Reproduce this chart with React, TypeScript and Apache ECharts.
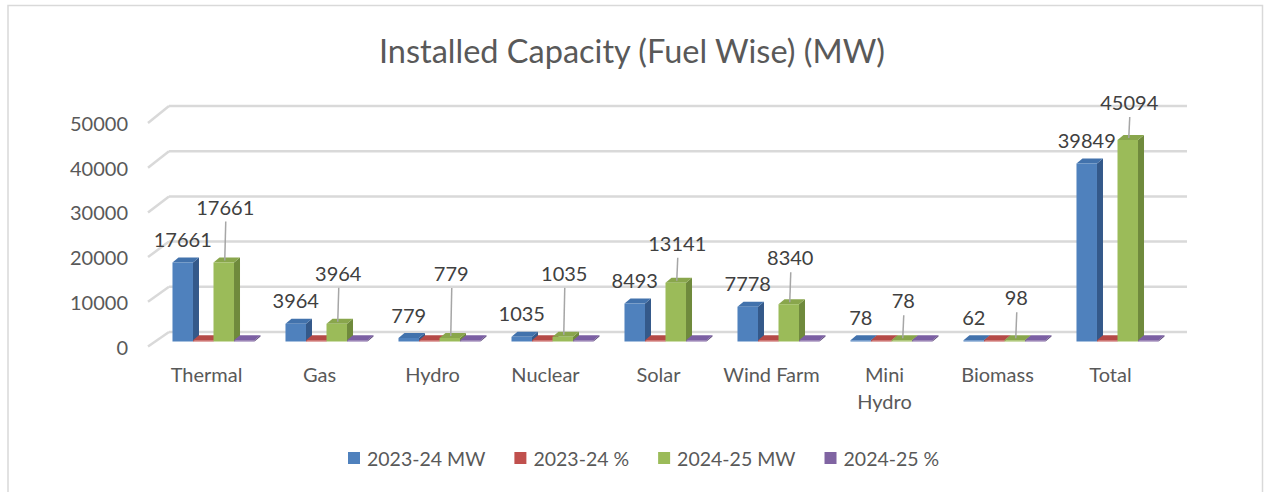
import React, { useEffect, useRef } from "react";
import * as echarts from "echarts";

// ---------- data ----------
const categories = ["Thermal", "Gas", "Hydro", "Nuclear", "Solar", "Wind Farm", "Mini\nHydro", "Biomass", "Total"];
const mw2023 = [17661, 3964, 779, 1035, 8493, 7778, 78, 62, 39849];
const pct2023 = [44.3, 9.9, 2.0, 2.6, 21.3, 19.5, 0.2, 0.2, 100];
const mw2024 = [17661, 3964, 779, 1035, 13141, 8340, 78, 98, 45094];
const pct2024 = [39.2, 8.8, 1.7, 2.3, 29.1, 18.5, 0.2, 0.2, 100];
const seriesNames = ["2023-24 MW", "2023-24 %", "2024-25 MW", "2024-25 %"];
const yTicks = [0, 10000, 20000, 30000, 40000, 50000];

// ---------- layout / style ----------
const greenLabelLift = [56, 51, 65, 64, 40, 47, 40, 43, 38];
const FONT = "Lato";
const TEXT = "#595959";
const LABEL = "#404040";
const palettes = [
  { front: "#4F81BD", side: "#34598A", top: "#4272AC" },
  { front: "#C0504D", side: "#8E3A38", top: "#B54A47" },
  { front: "#9BBB59", side: "#6F8A3C", top: "#89A64C" },
  { front: "#8064A2", side: "#5C4878", top: "#7B5FA3" },
];
const SHIFT_X = 7;
const SHIFT_Y = -5;
const DX = 6;
const DY = -5;

function makeBarRender(s: number) {
  return (params: any, api: any) => {
    const k = api.value(0);
    const v = api.value(1);
    const band = api.size([1, 0])[0];
    const bw = band * 0.1815;
    const p0 = api.coord([k, 0]);
    const pv = api.coord([k, v]);
    const x = p0[0] - 2 * bw + s * bw + SHIFT_X;
    const base = p0[1] + SHIFT_Y;
    let top = pv[1] + SHIFT_Y;
    if (base - top < 1.2) top = base - 1.2;
    const c = palettes[s];
    const children: any[] = [
      {
        type: "polygon",
        shape: { points: [[x + bw, top], [x + bw + DX, top + DY], [x + bw + DX, base + DY], [x + bw, base]] },
        style: { fill: c.side },
      },
      {
        type: "polygon",
        shape: { points: [[x, top], [x + DX, top + DY], [x + bw + DX, top + DY], [x + bw, top]] },
        style: { fill: c.top },
      },
      {
        type: "rect",
        shape: { x, y: top, width: bw, height: base - top },
        style: { fill: c.front },
      },
    ];
    const cx = x + bw / 2;
    if (s === 0) {
      children.push({
        type: "text",
        z2: 10,
        style: {
          x: cx,
          y: top - 23.5,
          text: String(v),
          fill: LABEL,
          fontSize: 20,
          fontFamily: FONT,
          align: "center",
          verticalAlign: "middle",
        },
      });
    } else if (s === 2) {
      const lx = cx + 1.5;
      const ly = top - greenLabelLift[k];
      children.push({
        type: "line",
        z2: 9,
        shape: { x1: lx + 0.5, y1: ly + 15, x2: cx + 1, y2: top - 2 },
        style: { stroke: "#a6a6a6", lineWidth: 1.5 },
      });
      children.push({
        type: "text",
        z2: 10,
        style: {
          x: lx,
          y: ly,
          text: String(v),
          fill: LABEL,
          fontSize: 20,
          fontFamily: FONT,
          align: "center",
          verticalAlign: "middle",
        },
      });
    }
    return { type: "group", children };
  };
}

function wallRender(params: any, api: any) {
  const v = api.value(1);
  const band = api.size([1, 0])[0];
  const left = api.coord([0, v])[0] - band / 2;
  const right = api.coord([categories.length - 1, v])[0] + band / 2;
  const yf = api.coord([0, v])[1];
  const base = api.coord([0, 0])[1];
  const yb = base - 14.5 - (base - yf) * 1.011;
  const style = { stroke: "#d9d9d9", lineWidth: 2.5, fill: "none" };
  return {
    type: "group",
    children: [
      { type: "line", shape: { x1: left - 2, y1: yf, x2: left + 19, y2: yb }, style },
      { type: "line", shape: { x1: left + 19, y1: yb, x2: right + 20, y2: yb }, style },
    ],
  };
}

export default function App() {
  const ref = useRef<HTMLDivElement>(null);
  useEffect(() => {
    if (!ref.current) return;
    const chart = echarts.init(ref.current, undefined, { renderer: "svg" });
    const seriesData = [mw2023, pct2023, mw2024, pct2024];
    chart.setOption({
      animation: false,
      backgroundColor: "#ffffff",
      title: {
        text: "Installed Capacity (Fuel Wise) (MW)",
        left: "center",
        top: 29,
        textStyle: { fontSize: 32.5, fontWeight: "normal", color: TEXT, fontFamily: FONT },
      },
      graphic: [
        {
          type: "rect",
          shape: { x: 8, y: 5.5, width: 1254.5, height: 500 },
          style: { fill: "none", stroke: "#d9d9d9", lineWidth: 1.5 },
          silent: true,
        },
      ],
      legend: {
        data: seriesNames,
        left: 343,
        top: 443,
        icon: "rect",
        itemWidth: 12,
        itemHeight: 12,
        itemGap: 29,
        textStyle: { fontSize: 19.5, color: TEXT, fontFamily: FONT, padding: [0, 0, 0, 2] },
      },
      grid: { left: 150, right: 97, top: 123, bottom: 145.5 },
      xAxis: {
        type: "category",
        data: categories,
        axisLine: { show: false },
        axisTick: { show: false },
        axisLabel: { margin: 14, lineHeight: 27, fontSize: 20, color: TEXT, fontFamily: FONT, interval: 0 },
      },
      yAxis: {
        type: "value",
        min: 0,
        max: 50000,
        interval: 10000,
        splitLine: { show: false },
        axisLine: { show: false },
        axisTick: { show: false },
        axisLabel: {
          margin: 22,
          fontSize: 20,
          color: TEXT,
          fontFamily: FONT,
          formatter: (v: number) => String(v),
        },
      },
      series: [
        {
          type: "custom",
          name: "wall",
          z: 1,
          silent: true,
          renderItem: wallRender,
          data: yTicks.map((v) => [0, v]),
        },
        ...seriesNames.map((name, s) => ({
          type: "custom",
          name,
          z: 2 + s,
          itemStyle: { color: palettes[s].front },
          renderItem: makeBarRender(s),
          data: seriesData[s].map((v, k) => [k, v]),
        })),
      ],
    });
    return () => chart.dispose();
  }, []);
  return <div ref={ref} style={{ position: "fixed", left: 0, top: 0, width: 1264, height: 492 }} />;
}
